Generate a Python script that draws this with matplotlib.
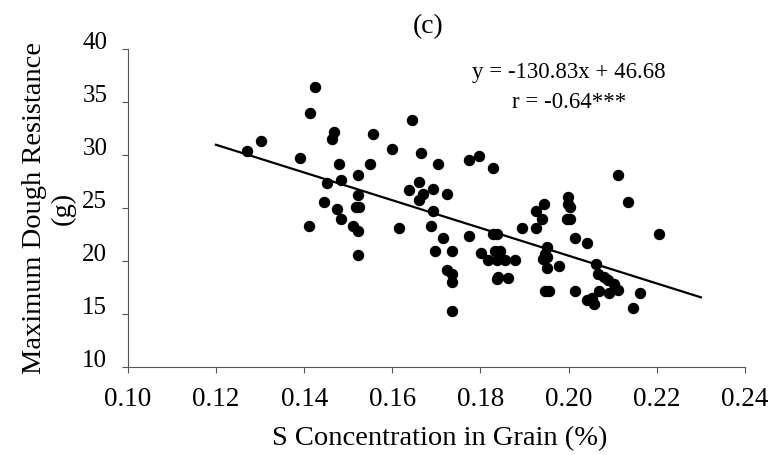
import matplotlib.pyplot as plt
import matplotlib.transforms as mtransforms
import numpy as np

# S concentration in grain (%) and max dough resistance (g)
s_conc = [0.1424, 0.1414, 0.1303, 0.1271, 0.1391, 0.1412,
          0.1467, 0.1463, 0.1644, 0.1556, 0.1600, 0.1666, 0.1479, 0.1550,
          0.1703, 0.1774, 0.1796, 0.1829, 0.1484, 0.1452, 0.1523, 0.1523,
          0.1660, 0.1638, 0.1670, 0.1660, 0.1693, 0.1725, 0.1445, 0.1474,
          0.1517, 0.1525, 0.1484, 0.1510, 0.1523, 0.1522, 0.1616, 0.1693,
          0.1687, 0.1714, 0.1697, 0.1736, 0.1724, 0.1736, 0.1736, 0.1736,
          0.1774, 0.1829, 0.1837, 0.1802, 0.1837,
          0.2113, 0.2135, 0.2205, 0.1998, 0.1998, 0.2004, 0.1997, 0.2004,
          0.1944, 0.1927, 0.1939, 0.1894, 0.1927, 0.2014, 0.2041, 0.1950,
          0.1946, 0.1950, 0.1942, 0.1950, 0.1977, 0.2063, 0.2067, 0.2080,
          0.2090, 0.2103, 0.2113, 0.2161, 0.2091, 0.2068, 0.2014, 0.1947,
          0.1956, 0.2041, 0.2052, 0.2057, 0.2145,
          0.1818, 0.1833, 0.1844, 0.1837, 0.1856, 0.1878, 0.1840, 0.1863]
resistance = [36.4, 34.0, 31.3, 30.4, 29.7, 23.3,
              32.2, 31.5, 33.3, 32.0, 30.6, 30.2, 29.2, 29.2,
              29.2, 29.5, 29.9, 28.8, 27.7, 27.4, 28.1, 26.2,
              27.5, 26.7, 26.3, 25.8, 26.8, 26.3, 25.6, 24.9,
              25.1, 25.1, 24.0, 23.3, 22.8, 20.6, 23.1, 24.7,
              23.3, 22.2, 21.0, 21.0, 19.2, 18.8, 18.0, 15.3,
              22.4, 22.6, 22.6, 20.8, 18.3,
              28.1, 25.6, 22.6, 26.1, 25.4, 25.1, 24.0, 24.0,
              25.4, 24.7, 24.0, 23.1, 23.1, 22.2, 21.7, 21.3,
              20.7, 20.4, 20.2, 19.4, 19.5, 19.7, 18.8, 18.5,
              18.2, 17.8, 17.3, 17.0, 17.0, 17.2, 17.2, 17.2,
              17.2, 16.3, 16.5, 16.0, 15.6,
              20.1, 21.0, 21.0, 20.1, 20.1, 20.1, 18.5, 18.4]

slope, intercept = -130.83, 46.68
fit_x = np.array([0.12, 0.23])
x_ticks = [0.10, 0.12, 0.14, 0.16, 0.18, 0.20, 0.22, 0.24]
y_ticks = [10, 15, 20, 25, 30, 35, 40]

plt.rcParams['font.family'] = ['Liberation Serif', 'DejaVu Serif']

fig = plt.figure(figsize=(7.7, 4.55), dpi=100)
ax = fig.add_axes([0.166, 0.193, 0.8015, 0.699])

ax.scatter(s_conc, resistance, s=52, color='black', zorder=3)
ax.plot(fit_x, slope * fit_x + intercept, color='black', lw=1.6)

ax.set_xlim(0.10, 0.24)
ax.set_ylim(10, 40)
ax.set_xticks(x_ticks)
ax.set_xticklabels([f"{t:.2f}" for t in x_ticks])
ax.set_yticks(y_ticks)

for side in ['top', 'right']:
    ax.spines[side].set_visible(False)
for side in ['left', 'bottom']:
    ax.spines[side].set_color('#555555')
    ax.spines[side].set_linewidth(0.8)
ax.tick_params(direction='out', length=4.3, width=0.8, color='#555555')
ax.tick_params(axis='x', labelsize=19.5, pad=10)
ax.tick_params(axis='y', labelsize=18, pad=10.5)

# y tick labels sit a little above their ticks in the original
shift = mtransforms.ScaledTranslation(0, 9 / 100, fig.dpi_scale_trans)
for lab in ax.get_yticklabels():
    lab.set_transform(lab.get_transform() + shift)

ax.set_xlabel('S Concentration in Grain (%)', fontsize=20.5)
ax.xaxis.set_label_coords(0.5057, -0.186)
ax.set_ylabel('Maximum Dough Resistance\n(g)', fontsize=20.5)
ax.yaxis.set_label_coords(-0.084, 0.5)

ax.text(0.486, 1.072, '(c)', fontsize=20, ha='center', va='center',
        transform=ax.transAxes)

ax.text(0.200, 37.8, f"y = {slope:.2f}x + {intercept:.2f}", fontsize=16.5,
        ha='center', va='center')
ax.text(0.200, 35.0, "r = -0.64***", fontsize=16.5, ha='center', va='center')

fig.savefig('out.png', dpi=100)
